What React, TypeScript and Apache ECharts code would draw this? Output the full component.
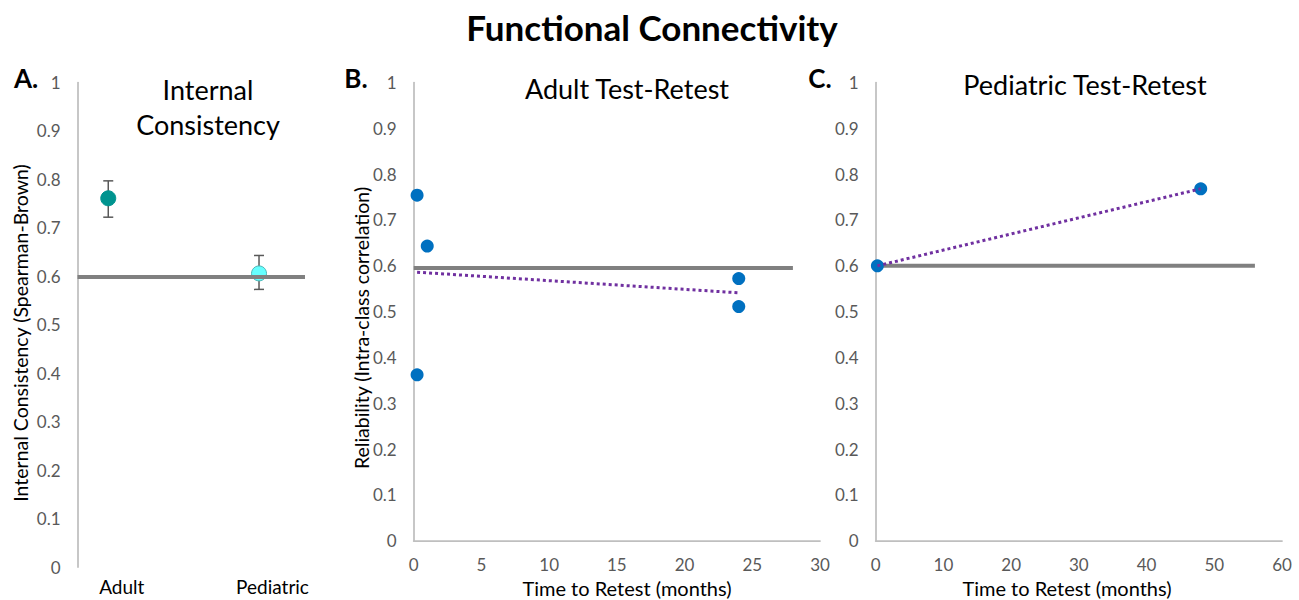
import React, { useEffect, useRef } from "react";
import * as echarts from "echarts";

// ---- data ----
const mainTitle = "Functional Connectivity";
const panelTitles = ["Internal\nConsistency", "Adult Test-Retest", "Pediatric Test-Retest"];
const panelLetters = ["A.", "B.", "C."];

// Panel A: internal consistency
const icCategories = ["Adult", "Pediatric"];
const icValues = [0.761, 0.606];
const icLow = [0.722, 0.573];
const icHigh = [0.797, 0.643];
const icColors = ["#00948F", "#66FFFF"];
const icThreshold = 0.602;

// Panel B: adult test-retest
const adultMonths = [0.25, 1, 0.25, 24, 24];
const adultIcc = [0.754, 0.643, 0.362, 0.572, 0.511];
const adultThreshold = 0.595;
const adultThresholdSpan = [0, 28];
const adultTrend = [
  [0.25, 0.586],
  [24, 0.541],
];

// Panel C: pediatric test-retest
const pedMonths = [0.25, 48];
const pedIcc = [0.6, 0.768];
const pedThreshold = 0.6;
const pedThresholdSpan = [0, 56];
const pedTrend = [
  [0.25, 0.6],
  [48, 0.768],
];

const axisNames = {
  aY: "Internal Consistency (Spearman-Brown)",
  bY: "Reliability (Intra-class correlation)",
  x: "Time to Retest (months)",
};

const FONT = "Lato, 'Open Sans', sans-serif";
const AXIS_COLOR = "#BFBFBF";
const TICK_COLOR = "#595959";

function yAxisCommon(gridIndex: number) {
  return {
    type: "value",
    gridIndex,
    min: 0,
    max: 1,
    interval: 0.1,
    axisLine: { show: true, onZero: false, lineStyle: { color: AXIS_COLOR, width: 1.75 } },
    axisTick: { show: false },
    splitLine: { show: false },
    axisLabel: {
      color: TICK_COLOR,
      fontSize: 17,
      fontFamily: FONT,
      margin: 17,
    },
  };
}

export default function App() {
  const ref = useRef<HTMLDivElement>(null);

  useEffect(() => {
    document.body.style.margin = "0";
    if (!ref.current) return;
    const chart = echarts.init(ref.current, null, { renderer: "svg" });

    const text = (
      t: string,
      x: number,
      y: number,
      size: number,
      weight: string = "normal",
      rotation = 0,
      lineHeight?: number
    ) => ({
      type: "text",
      x,
      y,
      rotation,
      z: 100,
      style: {
        text: t,
        x: 0,
        y: 0,
        fill: "#000",
        font: `${weight} ${size}px ${FONT}`,
        fontSize: size,
        fontWeight: weight,
        fontFamily: FONT,
        lineHeight: lineHeight ?? size * 1.2,
        align: "center",
        textAlign: "center",
        verticalAlign: "middle",
        textVerticalAlign: "middle",
      },
    });

    const option: any = {
      animation: false,
      backgroundColor: "#fff",
      grid: [
        { left: 77.5, top: 82.5, width: 227.5, height: 484.5, outerBoundsMode: "none" },
        { left: 413.7, top: 82.5, width: 406.3, height: 458.2, outerBoundsMode: "none" },
        { left: 875.7, top: 82.5, width: 406.3, height: 458.2, outerBoundsMode: "none" },
      ],
      xAxis: [
        {
          type: "value",
          gridIndex: 0,
          min: -0.204,
          max: 1.305,
          axisLine: { show: false },
          axisTick: { show: false },
          splitLine: { show: false },
          axisLabel: {
            customValues: [0, 1],
            formatter: (v: number) => icCategories[Math.round(v)] ?? "",
            color: "#000",
            fontSize: 19,
            fontFamily: FONT,
            margin: 10,
            padding: [0, 0, 0, 27],
          },
        },
        {
          type: "value",
          gridIndex: 1,
          min: 0,
          max: 30,
          interval: 5,
          axisLine: { show: true, onZero: false, lineStyle: { color: AXIS_COLOR, width: 1.75 } },
          axisTick: { show: false },
          splitLine: { show: false },
          axisLabel: { color: TICK_COLOR, fontSize: 17, fontFamily: FONT, margin: 15 },
        },
        {
          type: "value",
          gridIndex: 2,
          min: 0,
          max: 60,
          interval: 10,
          axisLine: { show: true, onZero: false, lineStyle: { color: AXIS_COLOR, width: 1.75 } },
          axisTick: { show: false },
          splitLine: { show: false },
          axisLabel: { color: TICK_COLOR, fontSize: 17, fontFamily: FONT, margin: 15 },
        },
      ],
      yAxis: [yAxisCommon(0), yAxisCommon(1), yAxisCommon(2)],
      series: [
        // Panel A
        {
          type: "line",
          xAxisIndex: 0,
          yAxisIndex: 0,
          data: [],
          symbol: "none",
          markLine: {
            silent: true,
            symbol: "none",
            label: { show: false },
            lineStyle: { color: "#808080", width: 4, type: "solid" },
            data: [{ yAxis: icThreshold }],
          },
          z: 1,
        },
        {
          type: "custom",
          xAxisIndex: 0,
          yAxisIndex: 0,
          data: icCategories.map((_, i) => [i, icLow[i], icHigh[i]]),
          encode: { x: 0, y: [1, 2] },
          renderItem: (_params: any, api: any) => {
            const x = api.value(0);
            const lo = api.coord([x, api.value(1)]);
            const hi = api.coord([x, api.value(2)]);
            const half = 5;
            const st = { stroke: "#595959", lineWidth: 1.5 };
            return {
              type: "group",
              children: [
                { type: "line", shape: { x1: lo[0], y1: lo[1], x2: hi[0], y2: hi[1] }, style: st },
                { type: "line", shape: { x1: lo[0] - half, y1: lo[1], x2: lo[0] + half, y2: lo[1] }, style: st },
                { type: "line", shape: { x1: hi[0] - half, y1: hi[1], x2: hi[0] + half, y2: hi[1] }, style: st },
              ],
            };
          },
          z: 2,
        },
        {
          type: "scatter",
          xAxisIndex: 0,
          yAxisIndex: 0,
          symbolSize: 15,
          data: icCategories.map((_, i) => ({
            value: [i, icValues[i]],
            itemStyle: {
              color: icColors[i],
              opacity: 1,
              borderColor: i === 1 ? "#4DB8B8" : icColors[i],
              borderWidth: 1,
            },
          })),
          z: 3,
        },
        // Panel B
        {
          type: "line",
          xAxisIndex: 1,
          yAxisIndex: 1,
          data: adultThresholdSpan.map((x) => [x, adultThreshold]),
          symbol: "none",
          lineStyle: { color: "#808080", width: 4, cap: "butt" },
          z: 1,
        },
        {
          type: "scatter",
          xAxisIndex: 1,
          yAxisIndex: 1,
          symbolSize: 13,
          itemStyle: { color: "#0070C0", opacity: 1 },
          data: adultMonths.map((m, i) => [m, adultIcc[i]]),
          z: 3,
        },
        {
          type: "line",
          xAxisIndex: 1,
          yAxisIndex: 1,
          data: adultTrend,
          symbol: "none",
          lineStyle: { color: "#7030A0", width: 3, type: [3, 3], cap: "butt" },
          z: 4,
        },
        // Panel C
        {
          type: "line",
          xAxisIndex: 2,
          yAxisIndex: 2,
          data: pedThresholdSpan.map((x) => [x, pedThreshold]),
          symbol: "none",
          lineStyle: { color: "#808080", width: 4, cap: "butt" },
          z: 1,
        },
        {
          type: "scatter",
          xAxisIndex: 2,
          yAxisIndex: 2,
          symbolSize: 13,
          itemStyle: { color: "#0070C0", opacity: 1 },
          data: pedMonths.map((m, i) => [m, pedIcc[i]]),
          z: 3,
        },
        {
          type: "line",
          xAxisIndex: 2,
          yAxisIndex: 2,
          data: pedTrend,
          symbol: "none",
          lineStyle: { color: "#7030A0", width: 3, type: [3, 3], cap: "butt" },
          z: 4,
        },
      ],
      graphic: [
        text(mainTitle, 652, 27, 35, "bold"),
        text(panelLetters[0], 26, 78, 26, "bold"),
        text(panelLetters[1], 356, 78, 26, "bold"),
        text(panelLetters[2], 820, 78, 26, "bold"),
        text(panelTitles[0], 208, 107, 27, "normal", 0, 35),
        text(panelTitles[1], 627, 88, 27),
        text(panelTitles[2], 1085, 84, 27),
        text(axisNames.aY, 20, 333, 19.5, "normal", Math.PI / 2),
        text(axisNames.bY, 361, 328, 19.5, "normal", Math.PI / 2),
        text(axisNames.x, 627, 588, 20),
        text(axisNames.x, 1067, 588, 20),
      ],
    };

    chart.setOption(option);
    return () => chart.dispose();
  }, []);

  return <div ref={ref} style={{ width: 1299, height: 600 }} />;
}
